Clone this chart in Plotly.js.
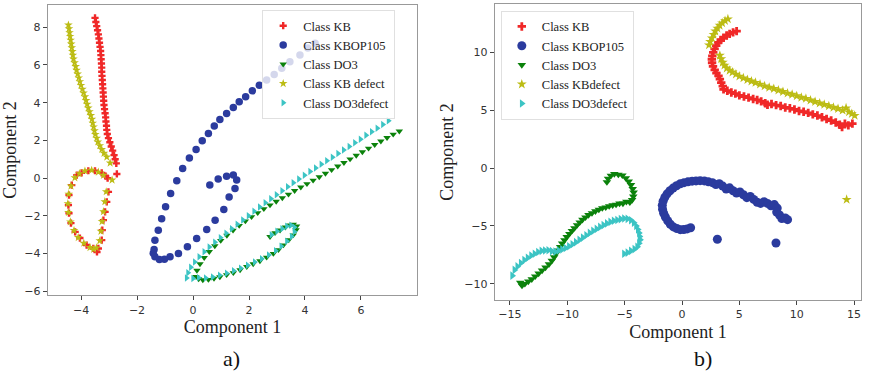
<!DOCTYPE html>
<html>
<head>
<meta charset="utf-8">
<script src="https://cdn.plot.ly/plotly-3.0.1.min.js"></script>
<style>html,body{margin:0;padding:0;background:#fff;}#chart{width:874px;height:374px;}</style>
</head>
<body>
<div id="chart"></div>
<script>
// ---------- Panel a ----------
const kbA_x = [-3.50,-3.47,-3.44,-3.41,-3.38,-3.36,-3.34,-3.32,-3.30,-3.29,-3.28,-3.27,-3.26,-3.26,-3.25,-3.24,-3.23,-3.22,-3.21,-3.20,-3.19,-3.18,-3.16,-3.14,-3.12,-3.11,-3.09,-3.08,-3.06,-3.02,-2.97,-2.92,-2.87,-2.82,-2.78,-2.74,
  -2.72,-3.05,-3.02,-3.08,-3.14,-3.20,-3.24,-3.26,-3.38,-3.43,
  -3.56,-3.80,-4.04,-4.21,-4.36,-4.43,-4.45,-4.43,-4.33,-4.15,-3.98,-3.74,-3.50,-3.26,-3.12];
const kbA_y = [8.50,8.28,8.06,7.84,7.62,7.40,7.18,6.96,6.74,6.52,6.30,6.08,5.86,5.64,5.42,5.20,4.98,4.76,4.54,4.32,4.10,3.88,3.66,3.44,3.22,3.00,2.78,2.56,2.34,2.12,1.90,1.68,1.46,1.22,1.00,0.78,
  0.22,0.00,-0.73,-1.26,-1.79,-2.23,-2.76,-3.29,-3.73,-3.92,
  -3.73,-3.55,-3.18,-2.85,-2.39,-1.86,-1.43,-0.90,-0.37,0.16,0.28,0.39,0.39,0.28,0.10];

const kbopA_x = [0.60,0.90,1.20,1.44,1.56,1.50,1.29,1.10,0.79,0.49,0.13,-0.20,-0.52,-0.82,-1.02,-1.20,-1.36,-1.42,-1.39,-1.36,-1.24,-1.12,-0.98,-0.80,-0.58,-0.37,-0.13,0.11,0.33,0.55,0.76,0.96,1.20,1.44,1.65,1.88,2.12,2.37,2.63,2.90,3.17,3.46,3.82,4.10,4.36];
const kbopA_y = [-0.37,-0.05,0.10,0.16,-0.10,-0.55,-1.00,-1.66,-2.23,-2.72,-3.20,-3.64,-4.00,-4.17,-4.30,-4.32,-4.17,-3.98,-3.78,-3.29,-2.76,-2.16,-1.52,-0.81,-0.14,0.51,1.06,1.52,1.98,2.37,2.76,3.11,3.43,3.75,4.05,4.31,4.63,4.93,5.20,5.50,5.82,6.17,6.53,6.90,7.15];

const do3A_x = [7.37,7.15,6.93,6.71,6.49,6.27,6.05,5.83,5.61,5.39,5.17,4.95,4.73,4.51,4.29,4.07,3.85,3.63,3.41,3.19,2.97,2.75,2.53,2.31,2.09,1.87,1.65,1.43,1.21,0.99,0.78,0.58,0.40,0.25,0.14,0.10,
  0.20,0.35,0.55,0.75,0.96,1.20,1.44,1.68,1.92,2.15,2.39,2.63,2.87,3.05,3.23,3.42,3.58,3.68,3.70,3.58,3.46,3.30,3.11,2.93,2.75];
const do3A_y = [2.49,2.32,2.14,1.96,1.77,1.58,1.39,1.20,1.01,0.82,0.63,0.44,0.25,0.06,-0.12,-0.30,-0.48,-0.67,-0.86,-1.05,-1.24,-1.43,-1.63,-1.84,-2.05,-2.28,-2.52,-2.77,-3.04,-3.31,-3.60,-3.90,-4.22,-4.55,-4.90,-5.22,
  -5.35,-5.40,-5.38,-5.32,-5.24,-5.13,-5.02,-4.87,-4.70,-4.55,-4.39,-4.20,-4.00,-3.80,-3.55,-3.28,-3.02,-2.75,-2.55,-2.45,-2.49,-2.60,-2.76,-2.90,-3.11];

const kbdA_x = [-4.45,-4.43,-4.41,-4.39,-4.37,-4.35,-4.33,-4.31,-4.29,-4.27,-4.23,-4.19,-4.16,-4.12,-4.08,-4.04,-4.00,-3.95,-3.91,-3.86,-3.82,-3.78,-3.74,-3.70,-3.65,-3.61,-3.58,-3.55,-3.52,-3.49,-3.44,-3.40,-3.33,-3.26,-3.18,-3.08,-2.96,
  -2.89,-3.10,-3.15,-3.20,-3.25,-3.29,-3.33,-3.45,-3.55,-3.68,-3.90,-4.10,-4.25,-4.38,-4.45,-4.47,-4.44,-4.36,-4.22,-4.06,-3.86,-3.62,-3.38,-3.20];
const kbdA_y = [8.12,7.92,7.72,7.52,7.32,7.12,6.92,6.72,6.52,6.32,6.12,5.92,5.72,5.52,5.32,5.12,4.92,4.72,4.52,4.32,4.12,3.92,3.72,3.52,3.32,3.12,2.92,2.72,2.52,2.32,2.12,1.92,1.72,1.52,1.32,1.12,0.80,
  -0.10,-0.72,-1.25,-1.78,-2.30,-2.82,-3.32,-3.70,-3.78,-3.68,-3.45,-3.15,-2.78,-2.32,-1.82,-1.35,-0.85,-0.42,0.02,0.24,0.38,0.42,0.32,0.15];

const do3dA_x = [6.98,6.78,6.58,6.38,6.18,5.98,5.78,5.58,5.38,5.18,4.98,4.78,4.58,4.38,4.18,3.98,3.78,3.58,3.38,3.18,2.98,2.78,2.58,2.38,2.18,1.98,1.78,1.58,1.38,1.18,0.98,0.78,0.58,0.40,0.22,0.06,-0.08,-0.18,-0.23,
  0.00,0.20,0.45,0.70,0.95,1.20,1.45,1.70,1.95,2.20,2.45,2.70,2.95,3.15,3.35,3.52,3.62,3.62,3.50,3.35,3.18,3.00,2.80];
const do3dA_y = [3.04,2.84,2.65,2.46,2.27,2.06,1.87,1.68,1.49,1.30,1.11,0.92,0.73,0.54,0.35,0.15,-0.05,-0.25,-0.46,-0.67,-0.88,-1.09,-1.31,-1.53,-1.76,-1.99,-2.22,-2.45,-2.68,-2.92,-3.16,-3.40,-3.65,-3.90,-4.17,-4.45,-4.73,-5.02,-5.30,
  -5.32,-5.28,-5.30,-5.25,-5.15,-5.05,-4.92,-4.78,-4.62,-4.45,-4.28,-4.08,-3.85,-3.62,-3.35,-3.10,-2.85,-2.60,-2.50,-2.55,-2.68,-2.82,-3.00];

// ---------- Panel b ----------
const kbB_x = [4.76,4.45,4.15,3.89,3.62,3.38,3.16,2.98,2.84,2.72,2.64,2.60,2.62,2.70,2.85,3.00,3.18,3.30,3.42,3.55,3.62,3.95,4.30,4.65,5.00,5.40,5.80,6.20,6.55,6.90,7.25,7.45,7.80,8.20,8.60,9.00,9.40,9.80,10.20,10.60,11.00,11.40,11.80,12.20,12.60,13.00,13.40,13.75,13.95,14.20,14.50,14.85];
const kbB_y = [11.85,11.75,11.62,11.48,11.28,11.08,10.88,10.60,10.32,10.02,9.72,9.42,9.12,8.80,8.50,8.22,7.98,7.70,7.40,7.10,6.82,6.70,6.55,6.45,6.30,6.20,6.10,5.98,5.90,5.78,5.62,5.48,5.55,5.45,5.38,5.25,5.18,5.08,4.95,4.88,4.78,4.65,4.55,4.40,4.25,4.12,3.95,3.75,3.55,3.85,3.70,3.85];

const kbopB_x = [0.75,0.45,0.15,-0.15,-0.45,-0.75,-1.02,-1.25,-1.45,-1.60,-1.70,-1.72,-1.65,-1.50,-1.30,-1.05,-0.78,-0.48,-0.15,0.18,0.52,0.88,1.22,1.58,1.95,2.30,2.65,2.95,3.25,3.55,3.85,4.15,4.45,4.75,5.05,5.35,5.65,5.95,6.25,6.55,6.85,7.15,7.45,7.75,8.05,8.30,8.25,8.50,8.70,9.00,9.20,3.08,8.19];
const kbopB_y = [-5.15,-5.25,-5.30,-5.32,-5.22,-5.08,-4.85,-4.55,-4.22,-3.90,-3.55,-3.20,-2.85,-2.52,-2.22,-1.95,-1.72,-1.52,-1.35,-1.25,-1.18,-1.12,-1.10,-1.08,-1.10,-1.18,-1.25,-1.42,-1.35,-1.55,-1.80,-1.70,-1.95,-2.15,-2.05,-2.30,-2.55,-2.45,-2.70,-2.95,-3.05,-2.90,-3.05,-3.25,-3.15,-3.45,-3.80,-4.05,-4.35,-4.30,-4.45,-6.15,-6.47];

const do3B_x = [-6.55,-6.45,-6.20,-5.90,-5.55,-5.20,-4.90,-4.65,-4.45,-4.30,-4.22,-4.25,-4.35,-4.55,-4.85,-5.15,-5.45,-5.75,-6.05,-6.35,-6.65,-6.95,-7.25,-7.55,-7.85,-8.15,-8.42,-8.68,-8.92,-9.15,-9.38,-9.60,-9.82,-10.05,-10.25,-10.45,-10.62,-10.80,-10.98,-11.15,-11.35,-11.60,-11.90,-12.20,-12.50,-12.80,-13.10,-13.40,-13.70,-13.95,-14.10];
const do3B_y = [-1.20,-0.90,-0.65,-0.50,-0.55,-0.62,-0.85,-1.15,-1.45,-1.78,-2.10,-2.45,-2.75,-2.95,-2.90,-3.05,-3.05,-3.15,-3.20,-3.28,-3.38,-3.45,-3.58,-3.72,-3.88,-4.05,-4.25,-4.45,-4.68,-4.92,-5.18,-5.42,-5.68,-5.95,-6.22,-6.50,-6.80,-7.10,-7.40,-7.70,-8.00,-8.30,-8.58,-8.85,-9.10,-9.35,-9.60,-9.80,-10.00,-10.15,-9.90];

const kbdB_x = [4.00,3.75,3.50,3.28,3.08,2.90,2.75,2.60,2.45,2.35,
  3.30,3.42,3.55,3.70,3.90,4.15,4.40,4.70,5.00,5.35,5.70,6.05,6.40,6.80,7.20,7.60,8.00,8.40,8.80,9.20,9.60,10.00,10.40,10.80,11.20,11.60,12.00,12.40,12.80,13.20,13.60,14.00,14.30,14.55,14.80,15.05,14.35];
const kbdB_y = [12.90,12.75,12.55,12.35,12.10,11.85,11.55,11.25,10.95,10.65,
  9.75,9.45,9.15,8.90,8.65,8.45,8.30,8.12,7.95,7.80,7.65,7.52,7.40,7.25,7.10,6.98,6.88,6.75,6.62,6.48,6.38,6.25,6.12,6.02,5.88,5.75,5.62,5.50,5.38,5.25,5.15,5.00,5.20,4.85,4.70,4.55,-2.71];

const do3dB_x = [-5.05,-4.75,-4.45,-4.15,-3.90,-3.75,-3.65,-3.70,-3.75,-3.85,-4.00,-4.20,-4.45,-4.75,-5.05,-5.35,-5.65,-5.95,-6.25,-6.55,-6.85,-7.15,-7.45,-7.75,-8.05,-8.35,-8.65,-8.95,-9.25,-9.55,-9.85,-10.15,-10.45,-10.75,-11.05,-11.35,-11.65,-11.95,-12.25,-12.55,-12.85,-13.15,-13.45,-13.75,-14.05,-14.35,-14.60,-14.80];
const do3dB_y = [-7.40,-7.30,-7.15,-7.00,-6.80,-6.50,-6.20,-5.90,-5.60,-5.30,-5.00,-4.72,-4.50,-4.38,-4.35,-4.40,-4.48,-4.55,-4.65,-4.78,-4.92,-5.08,-5.25,-5.42,-5.60,-5.80,-6.00,-6.20,-6.40,-6.58,-6.75,-6.90,-7.02,-7.12,-7.22,-7.18,-7.10,-7.12,-7.15,-7.25,-7.40,-7.55,-7.75,-7.95,-8.20,-8.50,-8.80,-9.30];

const namesA = ['Class KB','Class KBOP105','Class DO3','Class KB defect','Class DO3defect'];
const namesB = ['Class KB','Class KBOP105','Class DO3','Class KBdefect','Class DO3defect'];

const colors = ['#f02828','#2b3b9e','#0b820b','#bcbc14','#3cc4c4'];
const symbols = ['cross','circle','triangle-down','star','triangle-right'];
const sizesA = [6,7.5,6.5,6.5,6.5];
const sizesB = [7,9,7.5,7.5,7.5];

const dataA = [[kbA_x,kbA_y],[kbopA_x,kbopA_y],[do3A_x,do3A_y],[kbdA_x,kbdA_y],[do3dA_x,do3dA_y]];
const dataB = [[kbB_x,kbB_y],[kbopB_x,kbopB_y],[do3B_x,do3B_y],[kbdB_x,kbdB_y],[do3dB_x,do3dB_y]];

const traces = [];
dataA.forEach((d,i)=>traces.push({
  type:'scatter', mode:'markers', x:d[0], y:d[1], name:namesA[i],
  xaxis:'x', yaxis:'y', legend:'legend',
  marker:{color:colors[i], symbol:symbols[i], size:sizesA[i], line:{width:0}}
}));
dataB.forEach((d,i)=>traces.push({
  type:'scatter', mode:'markers', x:d[0], y:d[1], name:namesB[i],
  xaxis:'x2', yaxis:'y2', legend:'legend2',
  marker:{color:colors[i], symbol:symbols[i], size:sizesB[i], line:{width:0}}
}));

const serif = '"Liberation Serif", "Times New Roman", serif';
const tickFont = {family:'"DejaVu Sans", sans-serif', size:11, color:'#333'};
const titleFont = {family:serif, size:18, color:'#222'};
const axBase = {showgrid:false, zeroline:false, showline:true, mirror:true, linecolor:'#999', linewidth:1.3,
  ticks:'outside', ticklen:4, tickcolor:'#444', tickfont:tickFont};

const legendBase = {bgcolor:'rgba(255,255,255,0.8)', bordercolor:'#e0e0e0', borderwidth:1,
  font:{family:serif, size:12.5, color:'#222'},
  xanchor:'left', yanchor:'top', itemsizing:'trace', tracegroupgap:0, itemwidth:30};

const layout = {
  width:874, height:374, margin:{l:0,r:0,t:0,b:0},
  paper_bgcolor:'#fff', plot_bgcolor:'#fff', showlegend:true,
  xaxis: Object.assign({}, axBase, {domain:[0.0549,0.4771], range:[-5.18,8.0], tickvals:[-4,-2,0,2,4,6], anchor:'y',
    title:{text:'Component 1', font:titleFont, standoff:5}}),
  yaxis: Object.assign({}, axBase, {domain:[0.2112,0.9866], range:[-6.2,9.18], tickvals:[-6,-4,-2,0,2,4,6,8], anchor:'x',
    title:{text:'Component 2', font:titleFont, standoff:6}}),
  xaxis2: Object.assign({}, axBase, {domain:[0.5664,0.9851], range:[-16.3,15.6], tickvals:[-15,-10,-5,0,5,10,15], anchor:'y2',
    title:{text:'Component 1', font:titleFont, standoff:5}}),
  yaxis2: Object.assign({}, axBase, {domain:[0.1979,0.9893], range:[-11.4,14.2], tickvals:[-10,-5,0,5,10], anchor:'x2',
    title:{text:'Component 2', font:titleFont, standoff:6}}),
  legend: Object.assign({}, legendBase, {x:0.300, y:0.973}),
  legend2: Object.assign({}, legendBase, {x:0.573, y:0.971}),
  annotations:[
    {text:'a)', xref:'paper', yref:'paper', x:232/874, y:1-358/374, showarrow:false, xanchor:'center', yanchor:'middle',
     font:{family:serif, size:22, color:'#111'}},
    {text:'b)', xref:'paper', yref:'paper', x:703/874, y:1-358/374, showarrow:false, xanchor:'center', yanchor:'middle',
     font:{family:serif, size:22, color:'#111'}}
  ]
};

Plotly.newPlot('chart', traces, layout, {displayModeBar:false, staticPlot:true});
</script>
</body>
</html>
